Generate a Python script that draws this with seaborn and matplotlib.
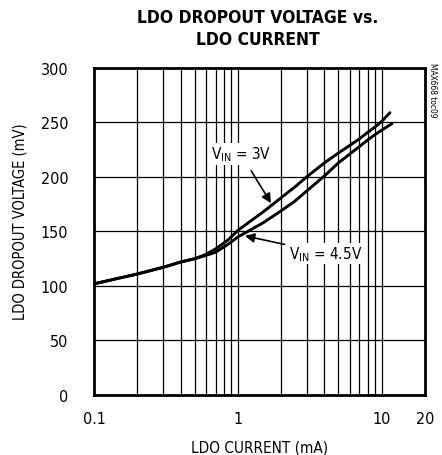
import pandas as pd
import numpy as np
import seaborn as sns
import matplotlib.pyplot as plt
from matplotlib.ticker import FixedLocator, NullFormatter

sns.set_theme(style="white")
plt.rcParams['font.family'] = ['DejaVu Sans']
plt.rcParams['font.stretch'] = 'condensed'
plt.rcParams['text.color'] = 'black'

# LDO current (mA) and dropout voltage (mV)
current_3v = [0.1, 0.2, 0.3, 0.4, 0.5, 0.6, 0.7, 0.85, 1.0, 1.5, 2.0, 2.5,
              3.0, 4.0, 5.0, 6.0, 7.0, 8.0, 9.0, 10.0, 11.4]
dropout_3v = [102, 111, 117, 122, 125, 129, 134, 142, 151, 168, 181, 191,
              200, 213, 222, 229, 235, 241, 246, 251, 259]
current_45v = [0.1, 0.2, 0.3, 0.4, 0.5, 0.6, 0.7, 0.85, 1.0, 1.5, 2.0, 2.5,
               3.0, 4.0, 5.0, 6.0, 7.0, 8.0, 9.0, 10.0, 11.8]
dropout_45v = [102, 111, 117, 122, 125, 128, 131, 138, 145, 158, 169, 178,
               187, 201, 213, 221, 228, 234, 239, 243, 249]

x_ticks = [0.1, 1, 10, 20]
x_labels = ["0.1", "1", "10", "20"]
y_ticks = [0, 50, 100, 150, 200, 250, 300]

df = pd.concat([
    pd.DataFrame({"current": current_3v, "dropout": dropout_3v, "vin": "3V"}),
    pd.DataFrame({"current": current_45v, "dropout": dropout_45v, "vin": "4.5V"}),
])

fig = plt.figure(figsize=(4.42, 4.56), dpi=100)
ax = fig.add_axes([0.2127, 0.1316, 0.7489, 0.7171])

sns.lineplot(data=df, x="current", y="dropout", units="vin", estimator=None,
             color="black", lw=2.1, ax=ax, legend=False)

ax.set_xscale("log")
ax.set_xlim(0.1, 20)
ax.set_ylim(0, 300)

minor = [m * d for d in (0.1, 1) for m in range(2, 10)]
ax.xaxis.set_major_locator(FixedLocator(x_ticks))
ax.set_xticklabels(x_labels)
ax.xaxis.set_minor_locator(FixedLocator(minor))
ax.xaxis.set_minor_formatter(NullFormatter())
ax.set_yticks(y_ticks)

ax.grid(False)
for v in [1, 10] + minor:
    ax.axvline(v, color="black", lw=0.9, zorder=1)
for v in y_ticks[1:-1]:
    ax.axhline(v, color="black", lw=0.9, zorder=1)

ax.tick_params(axis="both", which="both", length=0, labelsize=11.5, colors="black")
ax.tick_params(axis="x", pad=11.5)
ax.tick_params(axis="y", pad=18.5)
for s in ax.spines.values():
    s.set_color("black")
    s.set_linewidth(2)

ax.set_xlabel("LDO CURRENT (mA)", fontsize=11, color="black", labelpad=10)
ax.set_ylabel("LDO DROPOUT VOLTAGE (mV)", fontsize=10.5, color="black")
ax.yaxis.set_label_coords(-0.2, 0.532)

fig.text(0.584, 0.936, "LDO DROPOUT VOLTAGE vs.\nLDO CURRENT", ha="center", va="center",
         fontsize=12.5, fontweight="heavy", linespacing=1.3, color="black")
fig.text(0.978, 0.862, "MAX668 toc09", rotation=270, ha="center", va="top", fontsize=6,
         color="black")

bbox = dict(facecolor="white", edgecolor="none", pad=1)
ax.annotate(r"V$_{\mathregular{IN}}$ = 3V", xy=(1.7, 176), xytext=(1.05, 221),
            ha="center", va="center", fontsize=11, bbox=bbox,
            arrowprops=dict(arrowstyle="-|>", color="black", lw=1.2, shrinkA=5, shrinkB=0,
                            mutation_scale=14))
ax.annotate(r"V$_{\mathregular{IN}}$ = 4.5V", xy=(1.12, 146), xytext=(4.06, 130),
            ha="center", va="center", fontsize=11, bbox=bbox,
            arrowprops=dict(arrowstyle="-|>", color="black", lw=1.2, shrinkA=2, shrinkB=0,
                            mutation_scale=14))

fig.savefig("out.png", dpi=100)
